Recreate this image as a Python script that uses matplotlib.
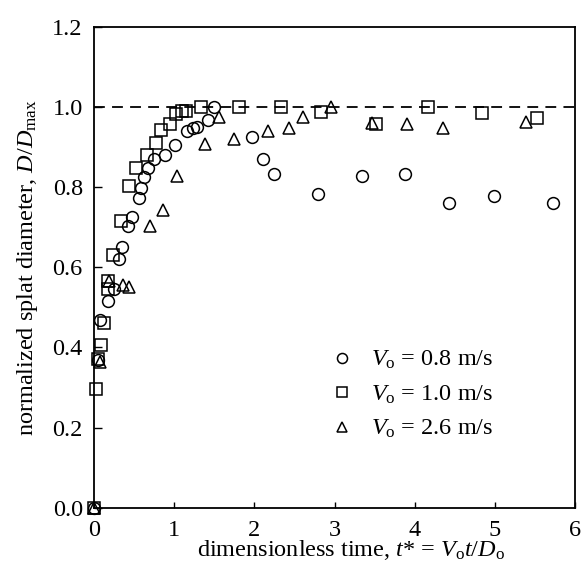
import numpy as np
import matplotlib
matplotlib.use("Agg")
import matplotlib.pyplot as plt

plt.rcParams['font.family'] = ['Liberation Serif', 'DejaVu Serif']
plt.rcParams['mathtext.fontset'] = 'custom'
plt.rcParams['mathtext.rm'] = 'Liberation Serif'
plt.rcParams['mathtext.it'] = 'Liberation Serif:italic'

# V0 = 0.8 m/s
t_08 = [0.0, 0.05, 0.08, 0.18, 0.25, 0.31, 0.35, 0.42, 0.47, 0.56, 0.59, 0.63, 0.68,
        0.75, 0.88, 1.01, 1.16, 1.24, 1.29, 1.42, 1.50, 1.97, 2.11, 2.24, 2.79, 3.34,
        3.88, 4.43, 4.99, 5.72]
d_08 = [0.0, 0.37, 0.469, 0.516, 0.547, 0.62, 0.65, 0.703, 0.726, 0.773, 0.797, 0.826,
        0.849, 0.87, 0.88, 0.905, 0.941, 0.947, 0.951, 0.967, 1.0, 0.926, 0.87, 0.834,
        0.782, 0.828, 0.834, 0.761, 0.777, 0.761]

# V0 = 1.0 m/s
t_10 = [0.0, 0.03, 0.05, 0.09, 0.13, 0.17, 0.18, 0.24, 0.34, 0.44, 0.53, 0.66, 0.77,
        0.84, 0.95, 1.02, 1.10, 1.15, 1.34, 1.81, 2.33, 2.83, 3.51, 4.17, 4.84, 5.52]
d_10 = [0.0, 0.297, 0.372, 0.405, 0.46, 0.567, 0.547, 0.63, 0.717, 0.802, 0.849, 0.88,
        0.911, 0.942, 0.957, 0.984, 0.991, 0.991, 1.0, 1.0, 1.0, 0.988, 0.959, 1.0,
        0.986, 0.972]

# V0 = 2.6 m/s
t_26 = [0.0, 0.07, 0.19, 0.36, 0.44, 0.70, 0.86, 1.04, 1.38, 1.56, 1.75, 2.17, 2.43,
        2.60, 2.96, 3.47, 3.90, 4.35, 5.39]
d_26 = [0.0, 0.363, 0.567, 0.555, 0.551, 0.703, 0.744, 0.828, 0.909, 0.976, 0.92, 0.94,
        0.948, 0.976, 1.0, 0.961, 0.957, 0.948, 0.964]

labels = [r'$V_{\rm o}$ = 0.8 m/s', r'$V_{\rm o}$ = 1.0 m/s', r'$V_{\rm o}$ = 2.6 m/s']

FS = 17.5

fig = plt.figure(figsize=(5.87, 5.75), dpi=100)
ax = fig.add_axes([0.160, 0.117, 0.820, 0.836])

# reference line at D/Dmax = 1
ax.axhline(1.0, color='k', ls=(0, (6, 4)), lw=1.3, zorder=1)

style = dict(ls='none', mfc='none', mec='k', mew=1.1, clip_on=False, zorder=3)
ax.plot(t_08, d_08, marker='o', ms=8.5, label=labels[0], **style)
ax.plot(t_10, d_10, marker='s', ms=8.0, label=labels[1], **style)
ax.plot(t_26, d_26, marker='^', ms=8.0, label=labels[2], **style)

ax.set_xlim(0, 6)
ax.set_ylim(0, 1.2)
ax.set_xticks(np.arange(0, 7, 1))
ax.set_yticks(np.arange(0, 1.21, 0.2))
ax.set_yticklabels(['%.1f' % v for v in np.arange(0, 1.21, 0.2)])
ax.tick_params(direction='in', labelsize=FS, width=1)
ax.tick_params(axis='x', length=4, pad=8.5)
ax.tick_params(axis='y', length=6, pad=8)
for sp in ax.spines.values():
    sp.set_linewidth(1.3)

ax.set_xlabel(r'dimensionless time, $t$* = $V_{\rm o}t/D_{\rm o}$', fontsize=FS)
ax.xaxis.set_label_coords(0.534, -0.063)
ax.set_ylabel(r'normalized splat diameter, $D/D_{\rm max}$', fontsize=FS, labelpad=9)

leg = ax.legend(loc='lower right', bbox_to_anchor=(0.85, 0.12), frameon=False,
                fontsize=FS, handletextpad=0.6, labelspacing=0.5, markerscale=0.85,
                handlelength=1.2, borderaxespad=0)

fig.savefig('out.png', dpi=100)
